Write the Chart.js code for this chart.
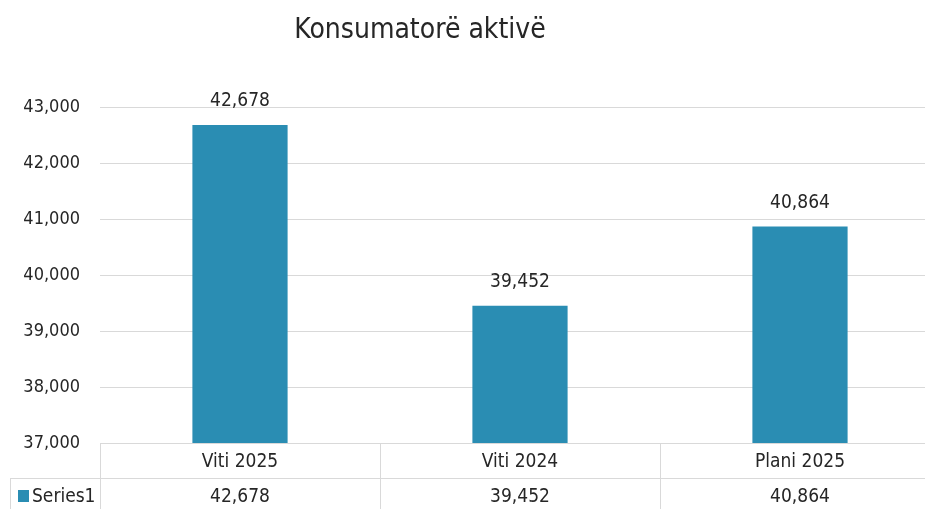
<!DOCTYPE html>
<html>
<head>
<meta charset="utf-8">
<script src="https://cdn.jsdelivr.net/npm/chart.js@4/dist/chart.umd.min.js"></script>
<style>
    html, body { margin: 0; padding: 0; background: #ffffff; overflow: hidden; }
    #wrap { position: relative; width: 925px; height: 509px; overflow: hidden; }
    #chart { position: absolute; left: 0; top: 0; }
    #title {
        position: absolute; left: 0; top: 12px; width: 840px; text-align: center;
        font-family: "DejaVu Sans Condensed", sans-serif;
        font-size: 28px; color: #262626;
    }
</style>
</head>
<body>
<div id="wrap">
    <canvas id="chart" width="940" height="509"></canvas>
    <div id="title">Konsumatorë aktivë</div>
</div>
<script>
const categories = ['Viti 2025', 'Viti 2024', 'Plani 2025'];
const seriesName = 'Series1';
const values = [42678, 39452, 40864];
const yMin = 37000;
const yMax = 43000;
const yStep = 1000;

const FONT = '"DejaVu Sans Condensed", sans-serif';
const BAR_COLOR = '#2a8db3';
const LINE_COLOR = '#d9d9d9';
const TEXT_COLOR = '#262626';

function fmt(v) {
    return v.toLocaleString('en-US');
}

// value labels above bars
const valueLabels = {
    id: 'valueLabels',
    afterDatasetsDraw(chart) {
        const ctx = chart.ctx;
        const meta = chart.getDatasetMeta(0);
        ctx.save();
        ctx.font = '19px ' + FONT;
        ctx.fillStyle = TEXT_COLOR;
        ctx.textAlign = 'center';
        ctx.textBaseline = 'middle';
        meta.data.forEach((bar, i) => {
            ctx.fillText(fmt(values[i]), bar.x, bar.y - 24);
        });
        ctx.restore();
    }
};

// data table under the plot (category row + series row)
const dataTable = {
    id: 'dataTable',
    afterDraw(chart) {
        const ctx = chart.ctx;
        const area = chart.chartArea;
        const xs = chart.scales.x;
        const n = categories.length;
        const cw = (area.right - area.left) / n;
        const top = area.bottom;
        const mid = top + 35;
        const bottom = chart.height;

        ctx.save();
        ctx.strokeStyle = LINE_COLOR;
        ctx.lineWidth = 1;
        ctx.beginPath();
        // horizontal borders
        ctx.moveTo(area.left, top + 0.5);
        ctx.lineTo(area.right, top + 0.5);
        ctx.moveTo(10, mid + 0.5);
        ctx.lineTo(area.right, mid + 0.5);
        // left border of series row
        ctx.moveTo(10.5, mid);
        ctx.lineTo(10.5, bottom);
        // category separators
        for (let i = 0; i <= n; i++) {
            const x = Math.round(area.left + i * cw) + 0.5;
            ctx.moveTo(x, top);
            ctx.lineTo(x, bottom);
        }
        ctx.stroke();

        ctx.font = '19px ' + FONT;
        ctx.fillStyle = TEXT_COLOR;
        ctx.textAlign = 'center';
        ctx.textBaseline = 'middle';
        categories.forEach((c, i) => {
            const x = xs.getPixelForValue(i);
            ctx.fillText(c, x, top + 19);
            ctx.fillText(fmt(values[i]), x, mid + 19);
        });

        // legend key + series name
        ctx.fillStyle = BAR_COLOR;
        ctx.fillRect(18, mid + 12, 11, 12);
        ctx.fillStyle = TEXT_COLOR;
        ctx.textAlign = 'left';
        ctx.fillText(seriesName, 32, mid + 19);
        ctx.restore();
    }
};

new Chart(document.getElementById('chart'), {
    type: 'bar',
    data: {
        labels: categories,
        datasets: [{
            label: seriesName,
            data: values,
            backgroundColor: BAR_COLOR,
            borderWidth: 0,
            categoryPercentage: 1.0,
            barPercentage: 0.34
        }]
    },
    options: {
        responsive: false,
        animation: false,
        layout: { padding: { top: 107, bottom: 66, left: 0, right: 0 } },
        plugins: {
            legend: { display: false },
            title: { display: false },
            tooltip: { enabled: false }
        },
        scales: {
            x: {
                display: false
            },
            y: {
                min: yMin,
                max: yMax,
                ticks: {
                    stepSize: yStep,
                    padding: 20,
                    color: TEXT_COLOR,
                    font: { family: FONT, size: 18 },
                    callback: v => fmt(v)
                },
                grid: { color: LINE_COLOR, drawTicks: false },
                border: { display: false },
                afterFit(scale) { scale.width = 100; }
            }
        }
    },
    plugins: [valueLabels, dataTable]
});
</script>
</body>
</html>
